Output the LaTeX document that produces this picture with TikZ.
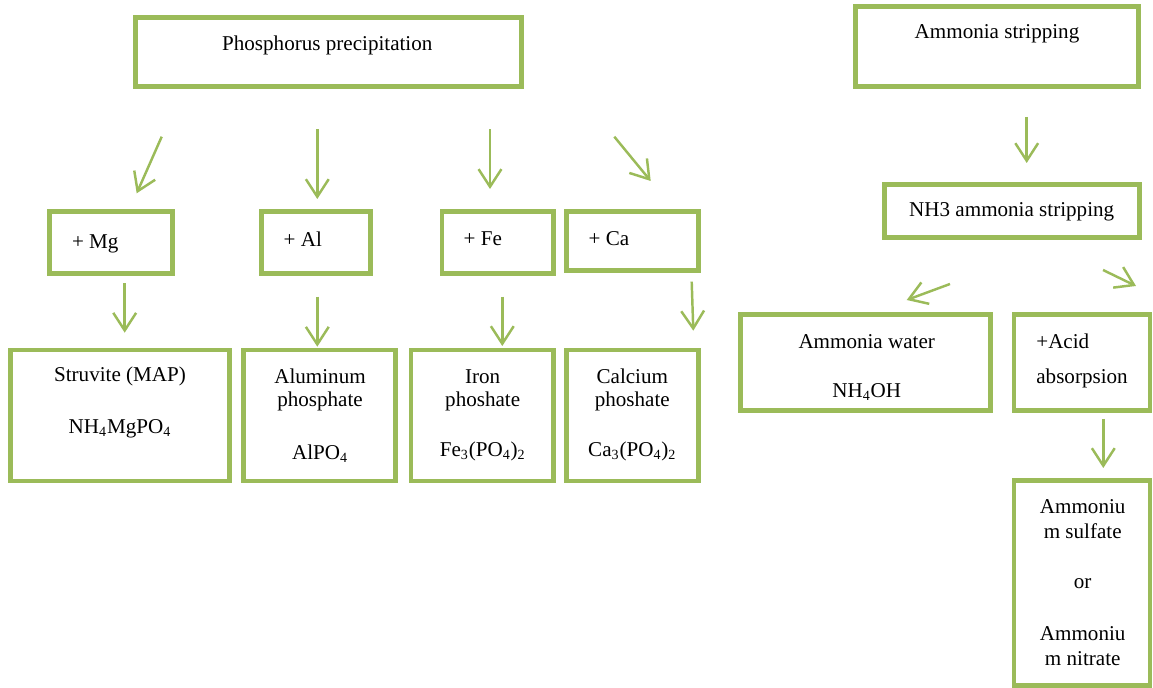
\documentclass[tikz,border=0pt]{standalone}
\usepackage{fontspec}
\setmainfont{Liberation Serif}
\usetikzlibrary{arrows.meta,positioning}
\definecolor{olivegreen}{HTML}{9BBB59}

\begin{document}
\begin{tikzpicture}[x=0.02cm, y=-0.02cm, font=\fontsize{12}{14}\selectfont,
  box/.style={draw=olivegreen, line width=2.8pt, inner sep=0pt},
  arr/.style={draw=olivegreen, line width=1.4pt, -{Straight Barb[length=10pt, width=13pt]}},
  lbl/.style={inner sep=0pt, yshift=-1pt}]
  \useasboundingbox (0,0) rectangle (1153,688);

  % phosphorus side
  \node[box, minimum width=7.73cm, minimum height=1.39cm] (phos) at (328.3,52.2) {};
  \node[lbl] (phos-t) at (327.3,43.3) {Phosphorus precipitation};

  \node[box, minimum width=2.46cm, minimum height=1.24cm] (mg) at (110.8,242.7) {};
  \node[lbl, anchor=west] (mg-t) at (71.7,241.7) {+ Mg};
  \node[box, minimum width=2.17cm, minimum height=1.24cm] (al) at (316,242.7) {};
  \node[lbl, anchor=west] (al-t) at (283.3,237.3) {+ Al};
  \node[box, minimum width=2.23cm, minimum height=1.23cm] (fe) at (497.7,242.7) {};
  \node[lbl, anchor=west] (fe-t) at (463.3,237.3) {+ Fe};
  \node[box, minimum width=2.63cm, minimum height=1.17cm] (ca) at (632.5,241) {};
  \node[lbl, anchor=west] (ca-t) at (588.3,237.3) {+ Ca};

  \node[box, minimum width=4.38cm, minimum height=2.62cm] (struvite) at (120.3,415.5) {};
  \node[lbl] (struvite-a) at (120,375) {Struvite (MAP)};
  \node[lbl] (struvite-b) at (120,426.7) {NH\textsubscript{4}MgPO\textsubscript{4}};
  \node[box, minimum width=3.05cm, minimum height=2.62cm] (alpo) at (319.5,415.5) {};
  \node[lbl] (alpo-a) at (320,375) {Aluminum};
  \node[lbl] (alpo-b) at (320,400) {phosphate};
  \node[lbl] (alpo-c) at (320,451.7) {AlPO\textsubscript{4}};
  \node[box, minimum width=2.85cm, minimum height=2.62cm] (fepo) at (482.2,415.5) {};
  \node[lbl] (fepo-a) at (482.7,375) {Iron};
  \node[lbl] (fepo-b) at (482.7,400) {phoshate};
  \node[lbl] (fepo-c) at (482.7,450) {Fe\textsubscript{3}(PO\textsubscript{4})\textsubscript{2}};
  \node[box, minimum width=2.63cm, minimum height=2.62cm] (capo) at (632.5,415.5) {};
  \node[lbl] (capo-a) at (632.3,375) {Calcium};
  \node[lbl] (capo-b) at (632.3,400) {phoshate};
  \node[lbl] (capo-c) at (632.3,450) {Ca\textsubscript{3}(PO\textsubscript{4})\textsubscript{2}};

  % ammonia side
  \node[box, minimum width=5.66cm, minimum height=1.6cm] (ammstrip) at (997,46.5) {};
  \node[lbl] (ammstrip-t) at (997,32) {Ammonia stripping};
  \node[box, minimum width=5.1cm, minimum height=1.06cm] (nhstrip) at (1011.7,211) {};
  \node[lbl] (nhstrip-t) at (1011.7,210) {NH3 ammonia stripping};

  \node[box, minimum width=5.0cm, minimum height=1.92cm] (ammwater) at (865.5,362.3) {};
  \node[lbl] (ammwater-a) at (866.7,340) {Ammonia water};
  \node[lbl] (ammwater-b) at (866.7,390) {NH\textsubscript{4}OH};
  \node[box, minimum width=2.72cm, minimum height=1.92cm] (acid) at (1082,362.3) {};
  \node[lbl, anchor=west] (acid-a) at (1036,340) {+Acid};
  \node[lbl, anchor=west] (acid-b) at (1036,376.7) {absorpsion};
  \node[box, minimum width=2.72cm, minimum height=4.1cm] (ammsalt) at (1082,583) {};
  \node[lbl] (ammsalt-a) at (1082.7,505) {Ammoniu};
  \node[lbl] (ammsalt-b) at (1082.7,529) {m sulfate};
  \node[lbl] (ammsalt-c) at (1082.7,581.7) {or};
  \node[lbl] (ammsalt-d) at (1082.7,631.7) {Ammoniu};
  \node[lbl] (ammsalt-e) at (1082.7,656.7) {m nitrate};

  % arrow ends
  \coordinate (mg-in)  at (161.7,136.7);  \coordinate (mg-tip)  at (136.7,193.3);
  \coordinate (al-in)  at (317.3,129.3);  \coordinate (al-tip)  at (317.3,199);
  \coordinate (fe-in)  at (490,129.3);    \coordinate (fe-tip)  at (490,189);
  \coordinate (ca-in)  at (614.3,136.7);  \coordinate (ca-tip)  at (650.7,181);
  \coordinate (mg-out) at (124.7,283.3);  \coordinate (struvite-tip) at (124.7,332.7);
  \coordinate (al-out) at (317.3,296.7);  \coordinate (alpo-tip) at (317.3,346.7);
  \coordinate (fe-out) at (502.3,296.7);  \coordinate (fepo-tip) at (502.3,346);
  \coordinate (ca-out) at (691.7,281.7);  \coordinate (capo-tip) at (693.3,330.7);
  \coordinate (strip-out) at (1026.7,117); \coordinate (nhstrip-tip) at (1026.7,163);
  \coordinate (water-in) at (950,284);    \coordinate (water-tip) at (906.7,300);
  \coordinate (acid-in) at (1103,270);    \coordinate (acid-tip) at (1136,286);
  \coordinate (acid-out) at (1103.3,419); \coordinate (ammsalt-tip) at (1103.3,468);

  \draw[arr] (mg-in) -- (mg-tip);
  \draw[arr] (al-in) -- (al-tip);
  \draw[arr] (fe-in) -- (fe-tip);
  \draw[arr] (ca-in) -- (ca-tip);
  \draw[arr] (mg-out) -- (struvite-tip);
  \draw[arr] (al-out) -- (alpo-tip);
  \draw[arr] (fe-out) -- (fepo-tip);
  \draw[arr] (ca-out) -- (capo-tip);
  \draw[arr] (strip-out) -- (nhstrip-tip);
  \draw[arr] (water-in) -- (water-tip);
  \draw[arr] (acid-in) -- (acid-tip);
  \draw[arr] (acid-out) -- (ammsalt-tip);
\end{tikzpicture}
\end{document}
